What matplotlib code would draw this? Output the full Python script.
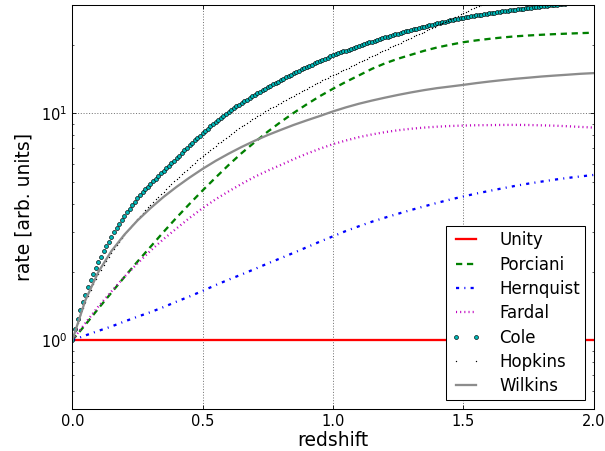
import numpy as np
import matplotlib
matplotlib.use('Agg')
import matplotlib.pyplot as plt

plt.rcParams['lines.scale_dashes'] = False
plt.rcParams['font.family'] = ['DejaVu Sans']
plt.rcParams['mathtext.fontset'] = 'dejavusans'

# ---------------- data ----------------
z_line = np.round(np.arange(0, 2.0001, 0.05), 2)     # 41 samples
z_dense = np.round(np.arange(0, 2.0001, 0.01), 2)    # 201 samples
z_hopkins = z_dense[:161]

unity_z = [0.0, 2.0]
unity = [1.0, 1.0]

porciani = [1.00, 1.17, 1.38, 1.62, 1.90, 2.22, 2.58, 3.00, 3.47, 3.99,
            4.57, 5.21, 5.92, 6.68, 7.46, 8.30, 9.16, 10.05, 10.96, 11.90,
            12.82, 13.76, 14.69, 15.70, 16.60, 17.40, 18.11, 18.85, 19.50, 20.05,
            20.56, 20.95, 21.28, 21.58, 21.83, 22.02, 22.18, 22.32, 22.44, 22.55,
            22.65]

hernquist = [1.00, 1.05, 1.10, 1.15, 1.21, 1.27, 1.33, 1.40, 1.48, 1.56,
             1.65, 1.75, 1.85, 1.95, 2.06, 2.18, 2.30, 2.43, 2.57, 2.72,
             2.87, 3.03, 3.18, 3.33, 3.47, 3.61, 3.75, 3.89, 4.03, 4.17,
             4.30, 4.43, 4.55, 4.67, 4.79, 4.90, 5.00, 5.10, 5.19, 5.27,
             5.35]

fardal = [1.00, 1.19, 1.41, 1.64, 1.905, 2.18, 2.48, 2.79, 3.11, 3.46,
          3.82, 4.18, 4.53, 4.89, 5.25, 5.59, 5.92, 6.28, 6.64, 6.98,
          7.31, 7.59, 7.85, 8.07, 8.26, 8.42, 8.55, 8.65, 8.73, 8.79,
          8.83, 8.86, 8.87, 8.885, 8.89, 8.88, 8.85, 8.82, 8.77, 8.71,
          8.65]

wilkins = [1.00, 1.50, 2.00, 2.47, 2.92, 3.37, 3.82, 4.28, 4.74, 5.21,
           5.69, 6.17, 6.64, 7.11, 7.57, 8.02, 8.45, 8.89, 9.31, 9.73,
           10.19, 10.62, 11.02, 11.38, 11.72, 12.05, 12.36, 12.65, 12.91, 13.12,
           13.34, 13.58, 13.80, 14.00, 14.19, 14.35, 14.52, 14.66, 14.79, 14.93,
           15.03]

cole = [1.00, 1.12, 1.24, 1.36, 1.47, 1.59, 1.72, 1.84, 1.96, 2.08,
        2.21, 2.33, 2.47, 2.60, 2.72, 2.85, 2.99, 3.12, 3.25, 3.39,
        3.53, 3.66, 3.80, 3.94, 4.08, 4.22, 4.35, 4.49, 4.62, 4.75,
        4.88, 5.01, 5.15, 5.29, 5.43, 5.57, 5.72, 5.87, 6.03, 6.18,
        6.34, 6.51, 6.68, 6.86, 7.04, 7.22, 7.40, 7.59, 7.78, 7.97,
        8.16, 8.36, 8.56, 8.76, 8.96, 9.16, 9.36, 9.56, 9.77, 9.97,
        10.17, 10.36, 10.55, 10.74, 10.93, 11.12, 11.30, 11.49, 11.68, 11.87,
        12.05, 12.24, 12.44, 12.63, 12.83, 13.02, 13.22, 13.41, 13.61, 13.80,
        14.0, 14.2, 14.4, 14.6, 14.8, 15.0, 15.2, 15.4, 15.6, 15.8,
        16.0, 16.2, 16.4, 16.6, 16.8, 17.0, 17.2, 17.4, 17.6, 17.8,
        18.0, 18.18, 18.36, 18.54, 18.72, 18.9, 19.08, 19.26, 19.44, 19.62,
        19.8, 19.98, 20.16, 20.34, 20.52, 20.7, 20.88, 21.06, 21.24, 21.42,
        21.6, 21.77, 21.94, 22.11, 22.28, 22.45, 22.62, 22.79, 22.96, 23.13,
        23.3, 23.46, 23.62, 23.78, 23.94, 24.1, 24.26, 24.42, 24.58, 24.74,
        24.9, 25.05, 25.2, 25.35, 25.5, 25.65, 25.8, 25.95, 26.1, 26.25,
        26.4, 26.52, 26.64, 26.76, 26.88, 27.0, 27.12, 27.24, 27.36, 27.48,
        27.6, 27.7, 27.8, 27.9, 28.0, 28.1, 28.2, 28.3, 28.4, 28.5,
        28.6, 28.7, 28.8, 28.9, 29.0, 29.1, 29.2, 29.3, 29.4, 29.5,
        29.6, 29.69, 29.78, 29.87, 29.96, 30.05, 30.14, 30.23, 30.32, 30.41,
        30.5, 30.58, 30.66, 30.74, 30.82, 30.9, 30.98, 31.06, 31.14, 31.22,
        31.3]

hopkins = [1.000, 1.097, 1.193, 1.289, 1.384, 1.479, 1.573, 1.667, 1.761, 1.856,
           1.950, 2.045, 2.141, 2.236, 2.332, 2.427, 2.525, 2.623, 2.721, 2.819,
           2.917, 3.019, 3.121, 3.224, 3.326, 3.428, 3.535, 3.642, 3.749, 3.856,
           3.963, 4.074, 4.185, 4.296, 4.408, 4.519, 4.641, 4.763, 4.885, 5.007,
           5.129, 5.259, 5.390, 5.520, 5.651, 5.781, 5.922, 6.063, 6.204, 6.345,
           6.486, 6.631, 6.776, 6.921, 7.066, 7.211, 7.361, 7.511, 7.662, 7.812,
           7.962, 8.120, 8.277, 8.435, 8.592, 8.750, 8.910, 9.070, 9.230, 9.390,
           9.550, 9.71, 9.87, 10.03, 10.19, 10.35, 10.51, 10.67, 10.82, 10.98,
           11.14, 11.31, 11.47, 11.64, 11.80, 11.97, 12.15, 12.32, 12.50, 12.67,
           12.85, 13.03, 13.22, 13.40, 13.59, 13.77, 13.96, 14.15, 14.34, 14.53,
           14.72, 14.92, 15.11, 15.31, 15.50, 15.70, 15.91, 16.12, 16.33, 16.54,
           16.75, 16.97, 17.19, 17.42, 17.64, 17.86, 18.09, 18.32, 18.55, 18.78,
           19.01, 19.25, 19.50, 19.74, 19.99, 20.23, 20.49, 20.75, 21.01, 21.27,
           21.53, 21.81, 22.08, 22.36, 22.63, 22.91, 23.20, 23.50, 23.79, 24.09,
           24.38, 24.69, 25.00, 25.32, 25.63, 25.94, 26.27, 26.61, 26.94, 27.28,
           27.61, 27.96, 28.32, 28.67, 29.03, 29.38, 29.76, 30.13, 30.51, 30.88,
           31.26]

x_ticks = [0.0, 0.5, 1.0, 1.5, 2.0]
x_label = 'redshift'
y_label = 'rate [arb. units]'

# ---------------- figure ----------------
W, H, DPI = 605, 451, 75
fig = plt.figure(figsize=(W / DPI, H / DPI), dpi=DPI)
ax = fig.add_axes([72.3 / W, 1 - 408.6 / H, (593.5 - 72.3) / W, (408.6 - 5.0) / H])

lw = 2.2
ax.plot(unity_z, unity, color='r', lw=lw, label='Unity')
ax.plot(z_line, porciani, color=(0, 0.5, 0), lw=lw, dashes=(6, 4.5),
        label='Porciani')
ax.plot(z_line, hernquist, color='b', lw=lw, dashes=(3, 5, 1, 5),
        label='Hernquist')
ax.plot(z_line, fardal, color=(0.75, 0, 0.75), lw=lw, dashes=(1, 3),
        label='Fardal')
ax.plot(z_dense, cole, ls='none', marker='o', ms=3.8,
        mfc=(0, 0.72, 0.72), mec='k', mew=0.6, label='Cole')
ax.plot(z_hopkins, hopkins, ls='none', marker='.', ms=2.6,
        mfc='k', mec='k', mew=0, label='Hopkins')
ax.plot(z_line, wilkins, color='0.55', lw=lw, label='Wilkins')

ax.set_yscale('log')
ax.set_xlim(0, 2)
ax.set_ylim(0.5, 30)
ax.set_xticks(x_ticks)
ax.set_xticklabels(['%.1f' % t for t in x_ticks])

ax.grid(True, which='major', color='k', ls=':', lw=0.5)
ax.tick_params(which='both', direction='in', top=True, right=True,
               labelsize=14, pad=5)
ax.tick_params(which='major', length=4, width=0.8)
ax.tick_params(which='minor', length=2, width=0.6)
for s in ax.spines.values():
    s.set_linewidth(1.0)

ax.set_xlabel(x_label, fontsize=18, labelpad=2)
ax.set_ylabel(y_label, fontsize=18, labelpad=7)

leg = ax.legend(loc='lower right', fontsize=16, numpoints=2,
                handlelength=1.8, handletextpad=1.1, labelspacing=0.38,
                borderpad=0.3, borderaxespad=0.5, fancybox=False,
                framealpha=1.0, edgecolor='k')
leg.get_frame().set_linewidth(1.0)

fig.savefig('out.png', dpi=DPI)
